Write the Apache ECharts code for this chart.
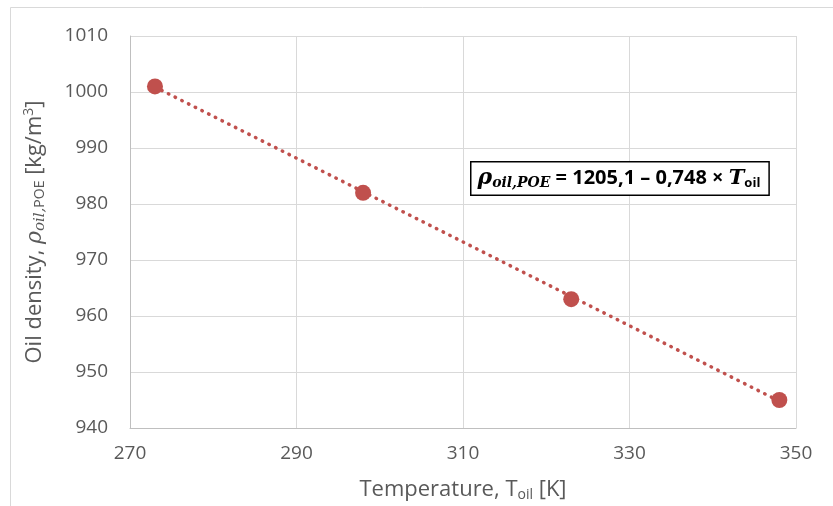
<!DOCTYPE html>
<html>
<head>
<meta charset="utf-8">
<script src="https://cdn.jsdelivr.net/npm/echarts@6/dist/echarts.min.js"></script>
<style>
  html, body { margin: 0; padding: 0; background: #fff; }
  #chart { width: 833px; height: 506px; }
</style>
</head>
<body>
<div id="chart"></div>
<script>
// Measured POE oil density at four temperatures
const temperatureK = [273, 298, 323, 348];
const densityKgM3 = [1001, 982, 963, 945];

// Linear fit coefficients: rho = a + b * T
const fitIntercept = 1205.1;
const fitSlope = -0.748;
const fitRangeK = [273, 348];

const xTicks = [270, 290, 310, 330, 350];
const yTicks = [940, 950, 960, 970, 980, 990, 1000, 1010];

const fitLine = fitRangeK.map(t => [t, fitIntercept + fitSlope * t]);
const points = temperatureK.map((t, i) => [t, densityKgM3[i]]);

const labelColor = '#595959';
const baseFont = '"Open Sans", "Liberation Sans", sans-serif';
const mathFont = '"DejaVu Serif", serif';
const red = '#c0504d';

const chart = echarts.init(document.getElementById('chart'));
chart.setOption({
  animation: false,
  backgroundColor: '#fff',
  grid: { left: 130, right: 37, top: 36, bottom: 78, outerBoundsMode: 'none', containLabel: false },
  xAxis: {
    type: 'value',
    min: xTicks[0], max: xTicks[xTicks.length - 1], interval: 20,
    axisLine: { show: true, lineStyle: { color: '#bfbfbf', width: 1 } },
    axisTick: { show: false },
    splitLine: { show: true, lineStyle: { color: '#d9d9d9', width: 1 } },
    axisLabel: { color: labelColor, fontSize: 19, fontFamily: baseFont, margin: 16, formatter: v => String(v) },
    name: '{n|Temperature, T}{s|oil}{n| [K]}',
    nameLocation: 'middle',
    nameGap: 48,
    nameTextStyle: {
      rich: {
        n: { fontSize: 22, color: labelColor, fontFamily: baseFont, lineHeight: 28 },
        s: { fontSize: 14, color: labelColor, fontFamily: baseFont, lineHeight: 28, padding: [11, 0, 0, 0] }
      }
    }
  },
  yAxis: {
    type: 'value',
    min: yTicks[0], max: yTicks[yTicks.length - 1], interval: 10,
    axisLine: { show: true, lineStyle: { color: '#bfbfbf', width: 1 } },
    axisTick: { show: false },
    splitLine: { show: true, lineStyle: { color: '#d9d9d9', width: 1 } },
    axisLabel: { color: labelColor, fontSize: 19, fontFamily: baseFont, margin: 22, formatter: v => String(v) },
    name: '{n|Oil density, }{i|ρ}{si|oil,}{s|POE}{n| [kg/m}{sup|3}{n|]}',
    nameLocation: 'middle',
    nameRotate: 90,
    nameGap: 81,
    nameTextStyle: {
      rich: {
        n: { fontSize: 22, color: labelColor, fontFamily: baseFont, lineHeight: 28 },
        i: { fontSize: 22, color: labelColor, fontFamily: mathFont, fontStyle: 'italic', lineHeight: 28 },
        si: { fontSize: 15, color: labelColor, fontFamily: mathFont, fontStyle: 'italic', lineHeight: 28, padding: [10, 0, 0, 0] },
        s: { fontSize: 14, color: labelColor, fontFamily: baseFont, lineHeight: 28, padding: [10, 0, 0, 0] },
        sup: { fontSize: 14, color: labelColor, fontFamily: baseFont, lineHeight: 28, padding: [0, 0, 11, 0] }
      }
    }
  },
  series: [
    {
      type: 'line',
      data: fitLine,
      symbol: 'none',
      lineStyle: { color: red, width: 3.5, type: [0.5, 7], cap: 'round' },
      z: 2
    },
    {
      type: 'scatter',
      data: points,
      symbolSize: 16,
      itemStyle: { color: red, opacity: 1 },
      z: 3
    }
  ],
  graphic: [
    {
      type: 'rect',
      shape: { x: 10.5, y: 7.5, width: 840, height: 520 },
      style: { fill: 'none', stroke: '#d9d9d9', lineWidth: 1 },
      silent: true, z: -1
    },
    {
      type: 'text',
      left: 470, top: 161,
      style: {
        text: '{r|ρ}{rs|oil,POE}{b| = 1205,1 – 0,748 × }{t|T}{ts|oil}',
        backgroundColor: '#fff',
        borderColor: '#000',
        borderWidth: 1.5,
        padding: [3, 8, 3, 6],
        rich: {
          r: { fontSize: 22, fontWeight: 'bold', fontStyle: 'italic', fontFamily: mathFont, color: '#000', lineHeight: 26 },
          rs: { fontSize: 14, fontWeight: 'bold', fontStyle: 'italic', fontFamily: mathFont, color: '#000', lineHeight: 26, padding: [10, 0, 0, 0] },
          b: { fontSize: 20, fontWeight: 'bold', fontFamily: baseFont, color: '#000', lineHeight: 26 },
          t: { fontSize: 21, fontWeight: 'bold', fontStyle: 'italic', fontFamily: mathFont, color: '#000', lineHeight: 26 },
          ts: { fontSize: 13, fontWeight: 'bold', fontFamily: baseFont, color: '#000', lineHeight: 26, padding: [10, 0, 0, 0] }
        }
      },
      z: 10
    }
  ]
});
</script>
</body>
</html>
